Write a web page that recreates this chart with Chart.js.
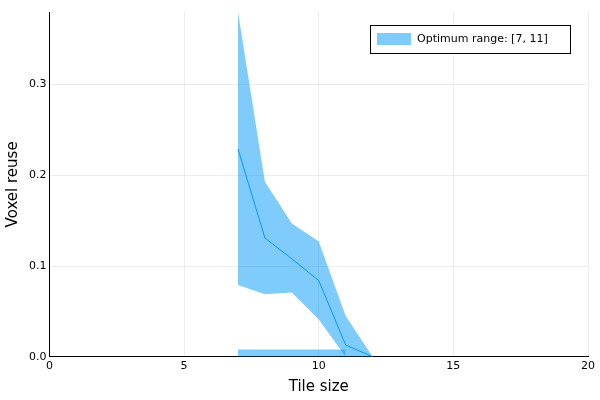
<!DOCTYPE html>
<html><head><meta charset="utf-8">
<script src="https://cdn.jsdelivr.net/npm/chart.js@4"></script>
<style>body{margin:0;background:#fff}#w{width:600px;height:400px}</style>
</head><body><div id="w"><canvas id="c"></canvas></div>
<script>
const tileSizes = [7, 8, 9, 10, 11, 12];
const reuseMean = [0.229, 0.131, 0.108, 0.084, 0.013, 0.0];
const reuseUpper = [0.380, 0.193, 0.147, 0.127, 0.045, 0.0];
const reuseLower = [0.079, 0.069, 0.071, 0.041, 0.0, 0.0];
const optimumRange = [7, 11];
const optimumHeight = 0.008;

const pts = ys => tileSizes.map((x, i) => ({x: x, y: ys[i]}));
const band = 'rgba(0,154,250,0.5)';

const legendBox = {
    id: 'legendBox',
    afterDraw(chart) {
        const c = chart.ctx, a = chart.chartArea;
        const x = a.right - 218, y = a.top + 13, w = 200, h = 28;
        c.save();
        c.fillStyle = '#fff';
        c.fillRect(x, y, w, h);
        c.strokeStyle = '#000';
        c.lineWidth = 1;
        c.strokeRect(x + 0.5, y + 0.5, w, h);
        c.fillStyle = band;
        c.fillRect(x + 7, y + 8, 34, 12);
        c.fillStyle = '#000';
        c.font = '11px "DejaVu Sans"';
        c.textBaseline = 'middle';
        c.fillText('Optimum range: [' + optimumRange[0] + ', ' + optimumRange[1] + ']', x + 47, y + 14.5);
        c.restore();
    }
};

new Chart(document.getElementById('c'), {
    type: 'line',
    data: {
        datasets: [{
            data: [{x: optimumRange[0], y: optimumHeight}, {x: optimumRange[1], y: optimumHeight}],
            borderWidth: 0,
            pointRadius: 0,
            backgroundColor: band,
            fill: {value: 0}
        }, {
            data: pts(reuseUpper),
            borderWidth: 0,
            pointRadius: 0,
            backgroundColor: band,
            fill: '+1'
        }, {
            data: pts(reuseLower),
            borderWidth: 0,
            pointRadius: 0,
            fill: false
        }, {
            data: pts(reuseMean),
            borderColor: '#009AFA',
            borderWidth: 1,
            pointRadius: 0,
            fill: false
        }]
    },
    options: {
        responsive: true,
        maintainAspectRatio: false,
        animation: false,
        layout: {padding: {top: 12, right: 12}},
        scales: {
            x: {
                type: 'linear',
                min: 0,
                max: 20,
                ticks: {stepSize: 5, color: '#000', font: {size: 11, family: 'DejaVu Sans'}},
                title: {display: true, text: 'Tile size', color: '#000', font: {size: 15, family: 'DejaVu Sans'}, padding: {top: 2}},
                grid: {color: 'rgba(0,0,0,0.07)', drawTicks: false},
                border: {color: '#000'}
            },
            y: {
                min: 0,
                max: 0.38,
                afterBuildTicks: ax => { ax.ticks = [0, 0.1, 0.2, 0.3].map(v => ({value: v})); },
                ticks: {color: '#000', font: {size: 11, family: 'DejaVu Sans'}, callback: v => v.toFixed(1)},
                title: {display: true, text: 'Voxel reuse', color: '#000', font: {size: 15, family: 'DejaVu Sans'}},
                grid: {color: 'rgba(0,0,0,0.07)', drawTicks: false},
                border: {color: '#000'}
            }
        },
        plugins: {legend: {display: false}, tooltip: {enabled: false}}
    },
    plugins: [legendBox]
});
</script></body></html>
